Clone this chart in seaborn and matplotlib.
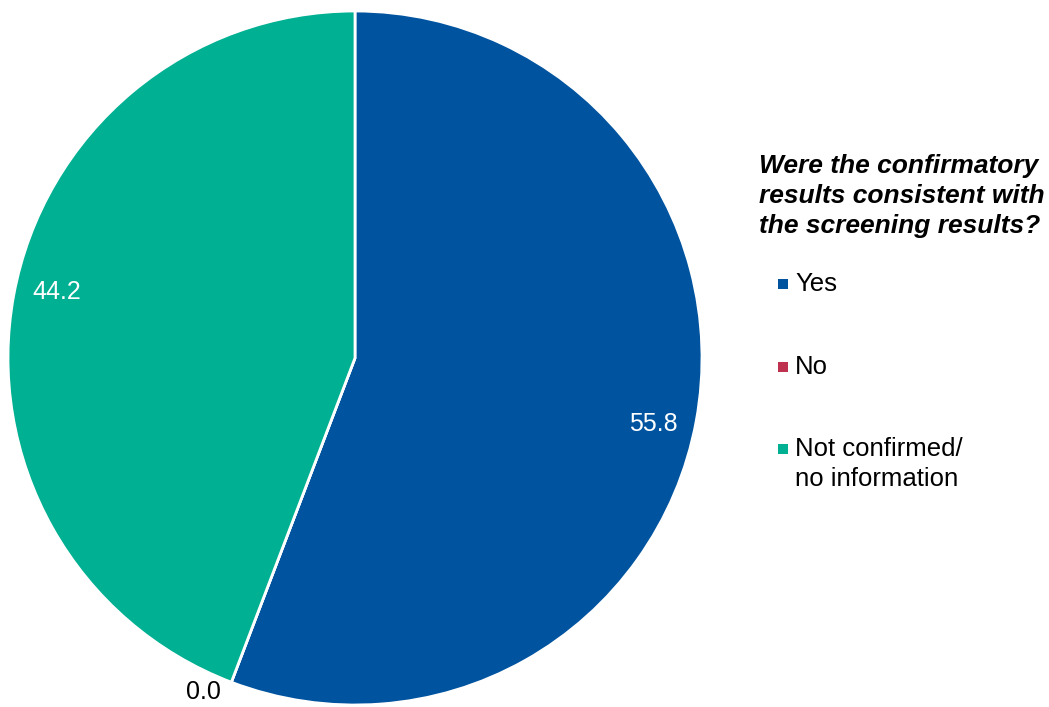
import numpy as np
import matplotlib
matplotlib.use("Agg")
import matplotlib.pyplot as plt
import seaborn as sns

sns.set_style("white")
plt.rcParams["font.family"] = ["Liberation Sans", "DejaVu Sans"]
plt.rcParams["text.color"] = "black"

categories = ["Yes", "No", "Not confirmed/\nno information"]
values = [55.8, 0.0, 44.2]
colors = ["#00539F", "#BE3250", "#00B092"]
legend_title = ["Were the confirmatory", "results consistent with", "the screening results?"]

W, H = 1049, 707
fig = plt.figure(figsize=(W / 100, H / 100), dpi=100)
fig.patch.set_facecolor("white")

# square axes holding the pie (radius 1 in data units)
cx, cy, R = 355, 358, 347
ax = fig.add_axes([(cx - R) / W, (H - cy - R) / H, 2 * R / W, 2 * R / H])
wedges, _ = ax.pie(values, colors=colors, startangle=90, counterclock=False,
                   wedgeprops=dict(edgecolor="white", linewidth=2))
ax.set_xlim(-1, 1)
ax.set_ylim(-1, 1)
ax.set_aspect("equal")
ax.axis("off")

# value labels: inside for real slices, just outside for empty ones
for w, v in zip(wedges, values):
    mid = np.deg2rad((w.theta1 + w.theta2) / 2 - 2)
    if v > 0:
        ax.text(0.88 * np.cos(mid), 0.88 * np.sin(mid), f"{v:.1f}",
                color="white", fontsize=18, ha="center", va="center")
    else:
        mid = np.deg2rad(w.theta1)
        ax.text(1.03 * np.cos(mid) - 0.02, 1.03 * np.sin(mid), f"{v:.1f}",
                color="black", fontsize=18, ha="right", va="center")

# legend drawn in figure pixel coordinates
def fx(x):
    return x / W

def fy(y):
    return 1 - y / H

for i, ln in enumerate(legend_title):
    fig.text(fx(759), fy(166 + i * 30), ln, fontsize=19, fontweight="bold",
             fontstyle="italic", ha="left", va="center")

entry_y = [284, 367, 449]
for lab, col, y in zip(categories, colors, entry_y):
    fig.patches.append(plt.Rectangle((fx(778), fy(y + 5)), 10 / W, 10 / H,
                                     transform=fig.transFigure,
                                     facecolor=col, edgecolor="none"))
    for i, ln in enumerate(lab.split("\n")):
        fig.text(fx(795), fy(y + i * 30), ln, fontsize=18.5, ha="left", va="center")

fig.savefig("out.png", dpi=100, facecolor="white")
